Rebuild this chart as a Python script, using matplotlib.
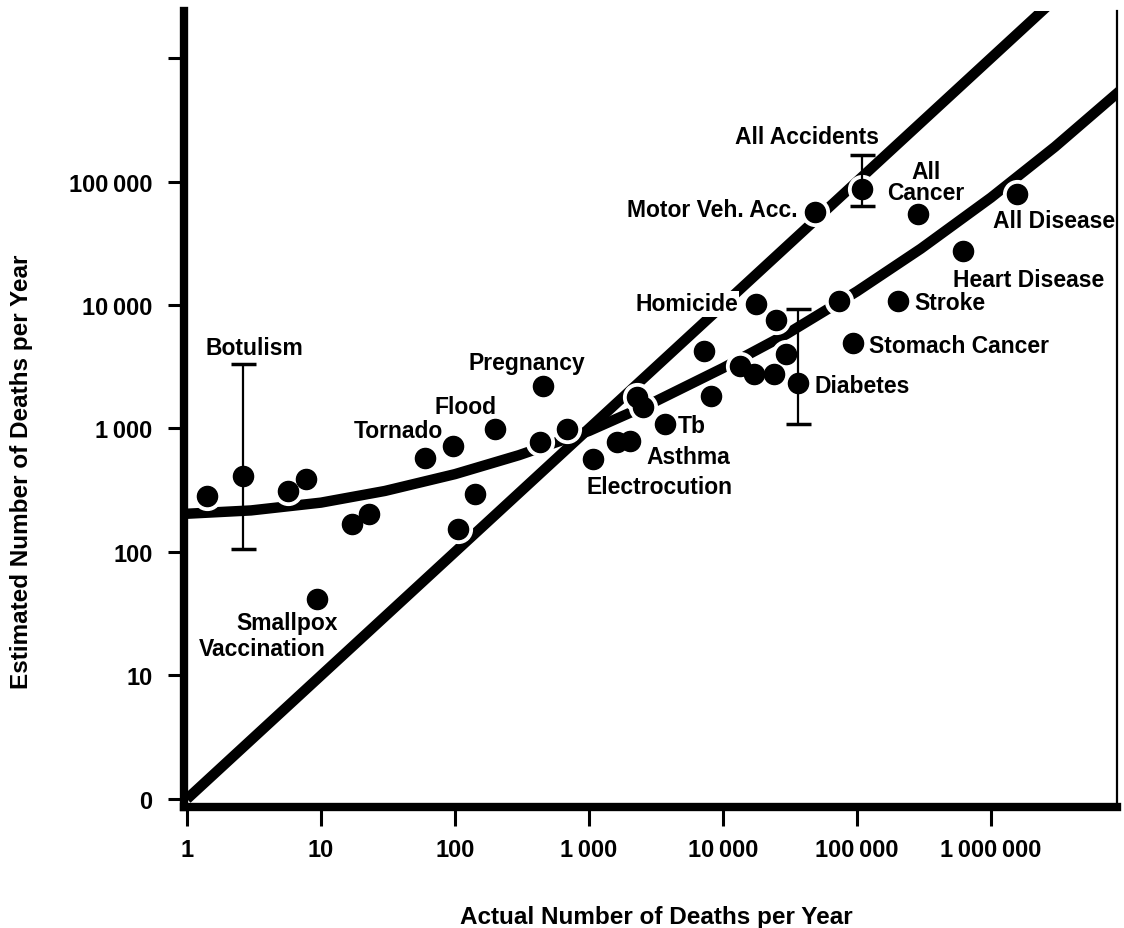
import matplotlib

matplotlib.use("Agg")
import matplotlib.pyplot as plt

plt.rcParams["font.family"] = ["Liberation Sans", "DejaVu Sans"]
plt.rcParams["font.weight"] = "bold"

# 1. data (deaths per year)
actual = [1.41, 2.62, 5.67, 7.73, 9.33, 17.0, 22.8, 59.7, 96.6, 105, 141, 199,
          454, 431, 685, 1071, 1618, 2023, 2280, 2528, 3690, 7210, 8130, 13400,
          17000, 24000, 29500, 17600, 24900, 36300, 48600, 73400, 93300, 109000,
          202000, 285000, 618000, 1560000]
estimated = [284, 412, 312, 390, 41.6, 169, 203, 577, 721, 153, 295, 991,
             2208, 778, 991, 566, 778, 792, 1798, 1493, 1087, 4244, 1833, 3208,
             2760, 2760, 4010, 10190, 7560, 2336, 56600, 10780, 4920, 86900,
             10780, 54600, 27400, 79200]

# error bars: Botulism, Diabetes, All Accidents
err_actual = [2.62, 36300, 109000]
err_center = [412, 2336, 86900]
err_low = [106, 1087, 63300]
err_high = [3330, 9290, 164000]

# line of perfect estimation
identity_actual = [1, 1e7]
identity_estimated = [1, 1e7]

# fitted curve through the judgements
curve_actual = [1, 3, 10, 30, 100, 300, 1000, 3000, 10000, 30000, 100000,
                300000, 1e6, 3e6, 1e7]
curve_estimated = [204, 217, 251, 312, 427, 608, 955, 1620, 3090, 5840, 12900,
                   28600, 74100, 191000, 589000]

ticks = [1, 10, 100, 1000, 10000, 100000, 1000000]
x_tick_labels = ["1", "10", "100", "1\u2009000", "10\u2009000", "100\u2009000",
                 "1\u2009000\u2009000"]
y_tick_labels = ["0", "10", "100", "1\u2009000", "10\u2009000", "100\u2009000", ""]

# 2. figure / axes
fig = plt.figure(figsize=(11.24, 9.29), dpi=100)
ax = fig.add_axes([0.1637, 0.1302, 0.830, 0.8568])
ax.set_xscale("log")
ax.set_yscale("log")
ax.set_xlim(0.95, 8.7e6)
ax.set_ylim(0.86, 2.4e6)

LW = 7.5
ax.plot(identity_actual, identity_estimated, color="black", lw=LW,
        solid_capstyle="butt", zorder=2)
ax.plot(curve_actual, curve_estimated, color="black", lw=LW,
        solid_capstyle="butt", zorder=2)

# white halo breaks the lines around the dots
ax.plot(actual, estimated, "o", color="white", markersize=20, zorder=3)
ax.errorbar(err_actual, err_center,
            yerr=[[c - lo for c, lo in zip(err_center, err_low)],
                  [hi - c for c, hi in zip(err_center, err_high)]],
            fmt="none", ecolor="black", elinewidth=1.6, capsize=9,
            capthick=2.5, zorder=4)
ax.plot(actual, estimated, "o", color="black", markersize=14.5, zorder=5)

# 3. point labels
lab = dict(fontsize=16.5, fontweight="bold", zorder=6)
ax.text(3.16, 4570, "Botulism", ha="center", va="center", **lab)
ax.text(344, 3455, "Pregnancy", ha="center", va="center", **lab)
ax.text(119, 1521, "Flood", ha="center", va="center", **lab)
ax.text(37.6, 955, "Tornado", ha="center", va="center", **lab)
ax.text(4615, 1048, "Tb", ha="left", va="center", **lab)
ax.text(5480, 588, "Asthma", ha="center", va="center", **lab)
ax.text(3330, 342, "Electrocution", ha="center", va="center", **lab)
ax.text(5.57, 27.1, "Smallpox", ha="center", va="center", **lab)
ax.text(3.63, 16.4, "Vaccination", ha="center", va="center", **lab)
ax.text(12900, 10190, "Homicide", ha="right", va="center",
        bbox=dict(facecolor="white", edgecolor="none", pad=1), **lab)
ax.text(36300, 59800, "Motor Veh. Acc.", ha="right", va="center", **lab)
ax.text(42400, 233000, "All Accidents", ha="center", va="center", **lab)
ax.text(327000, 99100, "All\nCancer", ha="center", va="center",
        multialignment="center", linespacing=0.88, **lab)
ax.text(1.035e6, 47900, "All Disease", ha="left", va="center", **lab)
ax.text(520000, 16200, "Heart Disease", ha="left", va="center", **lab)
ax.text(266000, 10400, "Stroke", ha="left", va="center", **lab)
ax.text(123000, 4740, "Stomach Cancer", ha="left", va="center", **lab)
ax.text(47800, 2250, "Diabetes", ha="left", va="center", **lab)

# 4. axes styling
ax.spines["top"].set_visible(False)
ax.spines["left"].set_linewidth(6)
ax.spines["bottom"].set_linewidth(6)
ax.spines["right"].set_linewidth(1.6)

ax.set_xticks(ticks)
ax.set_xticklabels(x_tick_labels)
ax.set_yticks(ticks)
ax.set_yticklabels(y_tick_labels)
ax.minorticks_off()
ax.tick_params(axis="x", direction="out", length=14, width=2.2, pad=8,
               labelsize=17)
ax.tick_params(axis="y", direction="out", length=11.5, width=2.2, pad=11,
               labelsize=17)
for t in ax.get_xticklabels() + ax.get_yticklabels():
    t.set_fontweight("bold")

fig.text(656 / 1124, 1 - 918 / 929, "Actual Number of Deaths per Year",
         ha="center", va="center", fontsize=17.5, fontweight="bold")
fig.text(22 / 1124, 1 - 472 / 929, "Estimated Number of Deaths per Year",
         ha="center", va="center", rotation=90, fontsize=17.5, fontweight="bold")

fig.savefig("out.png", dpi=100)
plt.close(fig)
